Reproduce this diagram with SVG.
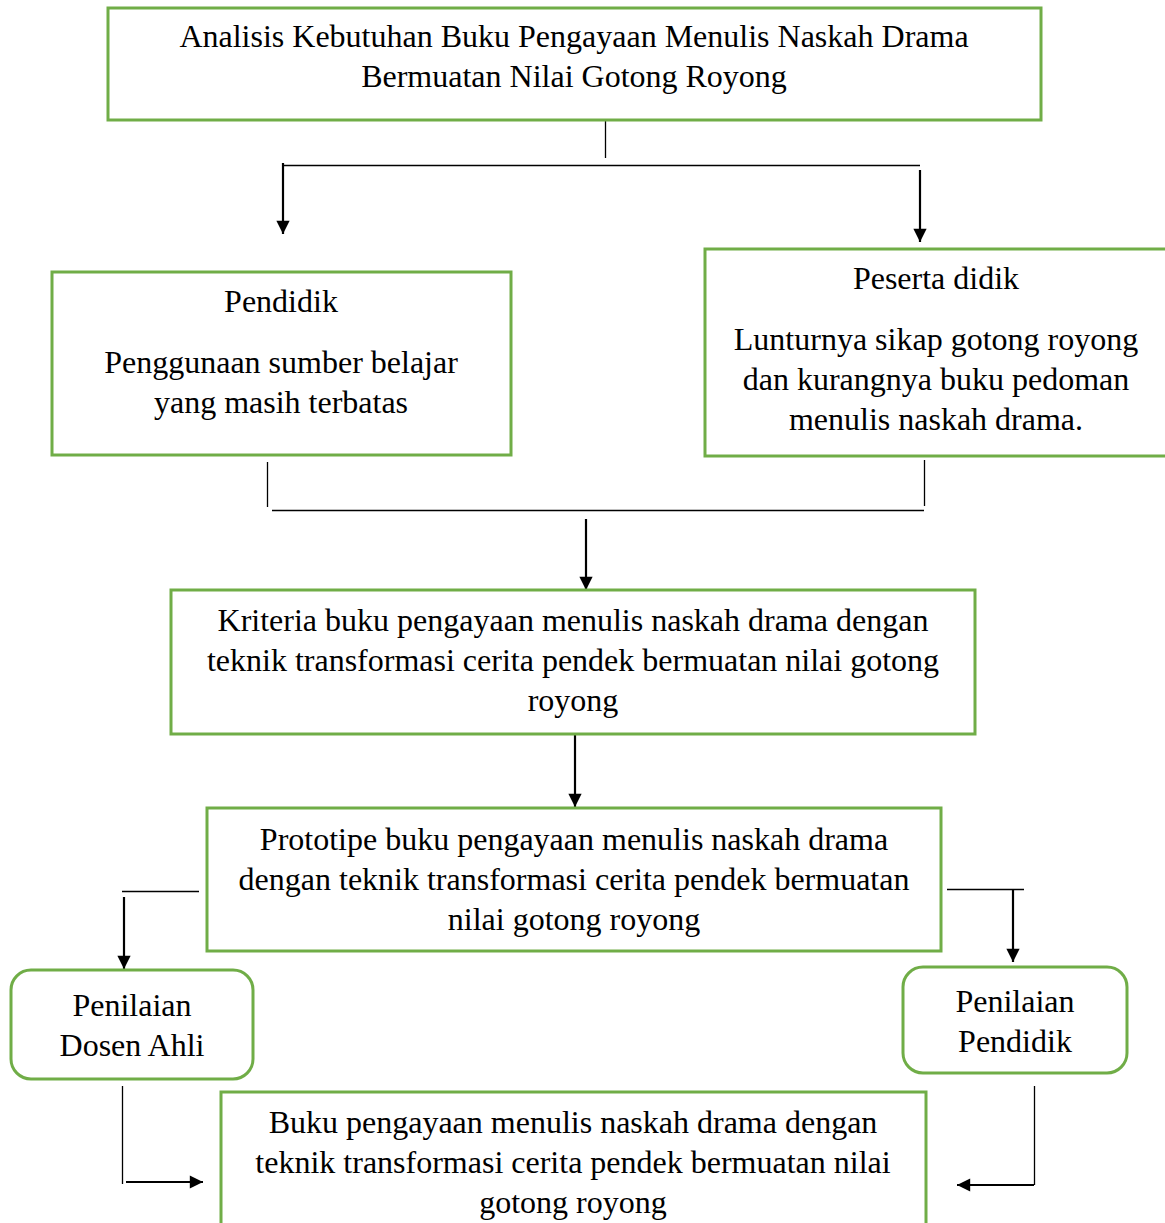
<svg xmlns="http://www.w3.org/2000/svg" width="1165" height="1223" viewBox="0 0 1165 1223">
<style>
.box{fill:#fff;stroke:#70AD47;stroke-width:3}
text{font-family:"Liberation Serif","Times New Roman",serif;font-size:32px;fill:#000;text-anchor:middle}
.thin{stroke:#000;stroke-width:1.3;fill:none}
.arr{stroke:#000;stroke-width:2.2;fill:none;marker-end:url(#ah)}
</style>
<defs>
<marker id="ah" viewBox="0 0 10 10" refX="10" refY="5" markerWidth="7" markerHeight="6" markerUnits="strokeWidth" orient="auto">
<path d="M0,0 L10,5 L0,10 Z" fill="#000"/>
</marker>
</defs>
<rect width="1165" height="1223" fill="#fff"/>
<g id="connectors">
<line class="thin" x1="605.5" y1="115" x2="605.5" y2="158"/>
<line class="thin" x1="283" y1="165.5" x2="920" y2="165.5"/>
<line class="arr" x1="283" y1="163" x2="283" y2="234"/>
<line class="arr" x1="920" y1="170" x2="920" y2="242"/>
<line class="thin" x1="267.5" y1="462" x2="267.5" y2="507"/>
<line class="thin" x1="924.5" y1="460" x2="924.5" y2="506"/>
<line class="thin" x1="272" y1="510.5" x2="924" y2="510.5"/>
<line class="arr" x1="586" y1="519" x2="586" y2="590"/>
<line class="arr" x1="575" y1="735" x2="575" y2="807"/>
<line class="thin" x1="122" y1="891.5" x2="199" y2="891.5"/>
<line class="arr" x1="124" y1="897" x2="124" y2="969"/>
<line class="thin" x1="947" y1="889.5" x2="1024" y2="889.5"/>
<line class="arr" x1="1013" y1="889" x2="1013" y2="962"/>
<line class="thin" x1="122.5" y1="1086" x2="122.5" y2="1184"/>
<line class="arr" x1="126" y1="1182" x2="203" y2="1182"/>
<line class="thin" x1="1034.5" y1="1086" x2="1034.5" y2="1185"/>
<line class="arr" x1="1034" y1="1185" x2="957" y2="1185"/>
</g>
<g id="analisis">
<rect class="box" x="108" y="8" width="933" height="112"/>
<text x="574" y="47">Analisis Kebutuhan Buku Pengayaan Menulis Naskah Drama</text>
<text x="574" y="87">Bermuatan Nilai Gotong Royong</text>
</g>
<g id="pendidik">
<rect class="box" x="52" y="272" width="459" height="183"/>
<text x="281" y="312">Pendidik</text>
<text x="281" y="373">Penggunaan sumber belajar</text>
<text x="281" y="413">yang masih terbatas</text>
</g>
<g id="peserta">
<rect class="box" x="705" y="249" width="470" height="207"/>
<text x="936" y="289">Peserta didik</text>
<text x="936" y="350">Lunturnya sikap gotong royong</text>
<text x="936" y="390">dan kurangnya buku pedoman</text>
<text x="936" y="430">menulis naskah drama.</text>
</g>
<g id="kriteria">
<rect class="box" x="171" y="590" width="804" height="144"/>
<text x="573" y="631">Kriteria buku pengayaan menulis naskah drama dengan</text>
<text x="573" y="671">teknik transformasi cerita pendek bermuatan nilai gotong</text>
<text x="573" y="711">royong</text>
</g>
<g id="prototipe">
<rect class="box" x="207" y="808" width="734" height="143"/>
<text x="574" y="850">Prototipe buku pengayaan menulis naskah drama</text>
<text x="574" y="890">dengan teknik transformasi cerita pendek bermuatan</text>
<text x="574" y="930">nilai gotong royong</text>
</g>
<g id="dosen">
<rect class="box" x="11" y="970" width="242" height="109" rx="20"/>
<text x="132" y="1016">Penilaian</text>
<text x="132" y="1056">Dosen Ahli</text>
</g>
<g id="penilaian-pendidik">
<rect class="box" x="903" y="967" width="224" height="106" rx="20"/>
<text x="1015" y="1012">Penilaian</text>
<text x="1015" y="1052">Pendidik</text>
</g>
<g id="buku">
<rect class="box" x="221" y="1092" width="705" height="150"/>
<text x="573" y="1133">Buku pengayaan menulis naskah drama dengan</text>
<text x="573" y="1173">teknik transformasi cerita pendek bermuatan nilai</text>
<text x="573" y="1213">gotong royong</text>
</g>
</svg>
